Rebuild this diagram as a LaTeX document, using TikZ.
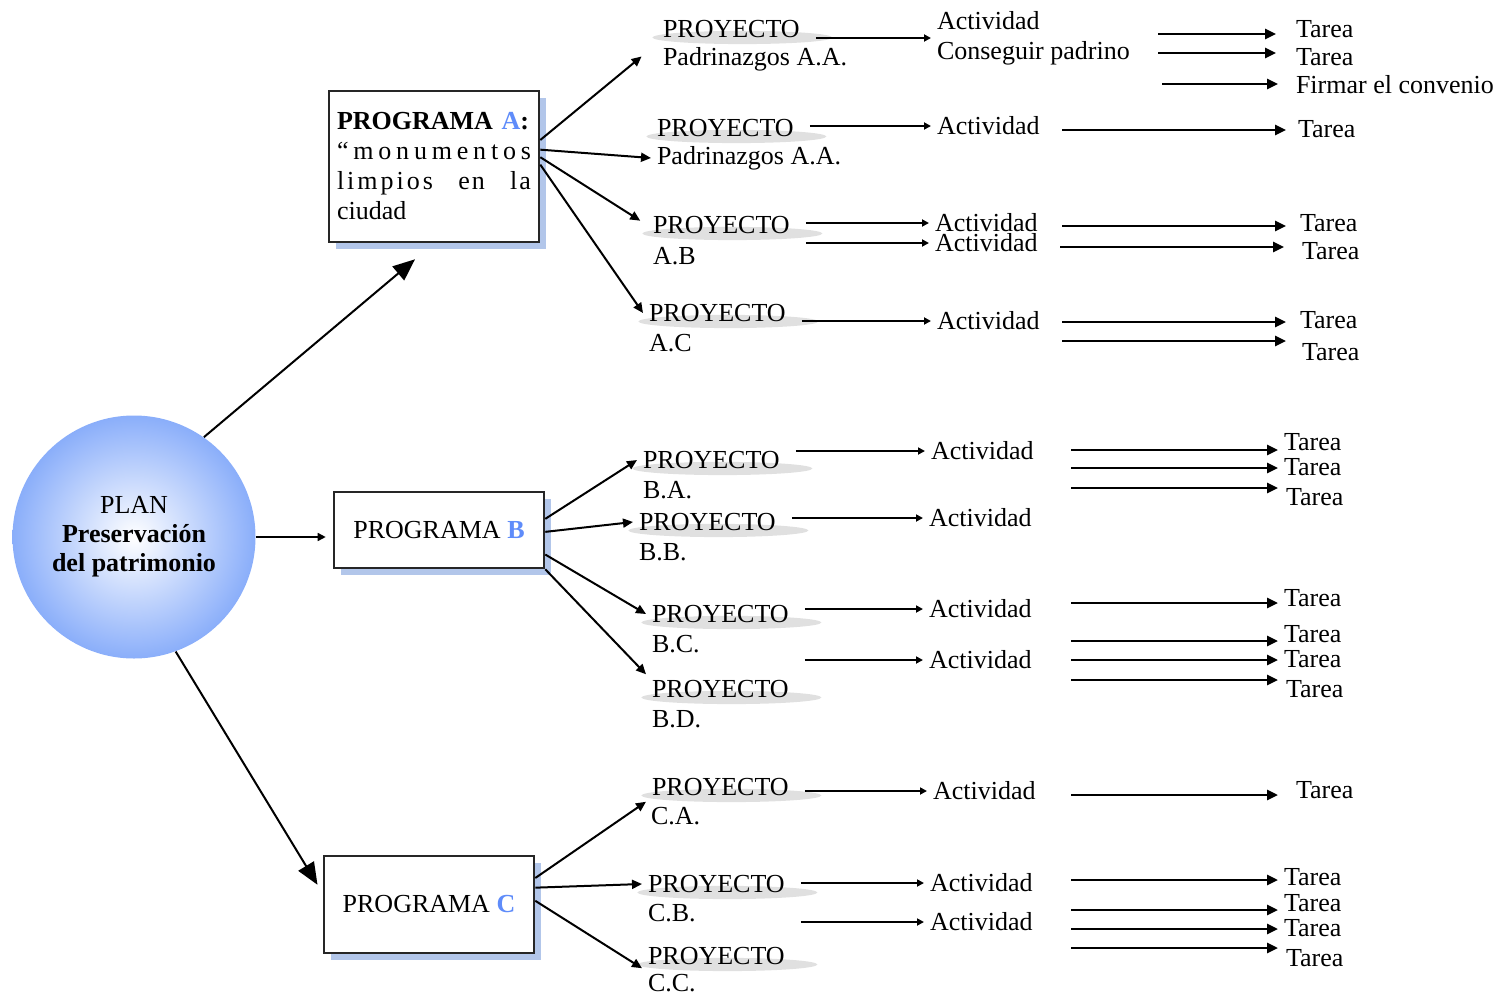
\documentclass[tikz,border=0pt]{standalone}
\usepackage{fontspec}
\setmainfont{Liberation Serif}
\usetikzlibrary{arrows.meta,shadows,backgrounds}

\definecolor{azulletra}{RGB}{95,140,250}
\definecolor{azulplan}{RGB}{138,174,250}
\definecolor{azulsombra}{RGB}{178,198,234}
\definecolor{grisproy}{RGB}{224,224,224}

\tikzstyle{plan} = [circle, minimum size=121.5pt, inner sep=0pt, shading=radial, inner color=white, outer color=azulplan, align=center, font=\fontsize{13}{14.5}\selectfont]
\tikzstyle{programa} = [draw=black!85, line width=1.3pt, fill=white, minimum width=105pt, drop shadow={shadow xshift=3.5pt, shadow yshift=-3.5pt, fill=azulsombra, opacity=1}]
\tikzstyle{txt} = [anchor=west, inner sep=0pt, outer sep=3pt]
\tikzstyle{sombra} = [fill=grisproy]
\tikzstyle{grande} = [line width=1pt, -{Triangle[length=11pt,width=9pt]}]
\tikzstyle{chica} = [line width=0.8pt, -{Triangle[length=4pt,width=4pt]}]
\tikzstyle{flecha} = [line width=1pt, -{Triangle[length=5pt,width=4.5pt]}]
\tikzstyle{act} = [line width=0.9pt, shorten <=5pt, -{Triangle[length=3.5pt,width=3.5pt]}]
\tikzstyle{tar} = [line width=1.3pt, -{Triangle[length=5.5pt,width=5pt]}]

\begin{document}
\begin{tikzpicture}[x=0.5pt, y=-0.5pt, every node/.style={font=\fontsize{13}{15}\selectfont}]
\useasboundingbox (0,0) rectangle (1501,996);

% plan y programas
\node[plan] (plan) at (134,537) {PLAN\\ \textbf{Preservación}\\ \textbf{del patrimonio}};
\node[programa, minimum height=75.5pt, text width=97pt, inner xsep=4pt, align=left] (progA) at (434,166.5) {%
    \textbf{PROGRAMA \textcolor{azulletra}{A}:}\\
    \makebox[97pt][s]{“\hfill m\hfill o\hfill n\hfill u\hfill m\hfill e\hfill n\hfill t\hfill o\hfill s}\\
    \makebox[97pt][s]{l\kern1.5pt i\kern1.5pt m\kern1.5pt p\kern1.5pt i\kern1.5pt o\kern1.5pt s\hfill e\kern1pt n\hfill l\kern1pt a}\\
    ciudad};
\node[programa, minimum height=38pt] (progB) at (439,530) {PROGRAMA \textbf{\textcolor{azulletra}{B}}};
\node[programa, minimum height=48.5pt] (progC) at (429,904.5) {PROGRAMA \textbf{\textcolor{azulletra}{C}}};

\draw[grande, shorten >=12.4pt] (plan.55) -- (progA.south);
\draw[chica, shorten >=3.5pt] (plan.east) -- (plan.east -| progB.west);
\draw[grande, shorten >=5pt] (plan.-70) -- (progC.174);

% proyectos
\node[txt] (pAA) at (657,29) {PROYECTO};
\node[txt] (sAA) at (657,59) {Padrinazgos A.A.};
\node[txt] (pAAb) at (651,128) {PROYECTO};
\node[txt] (sAAb) at (651,158) {Padrinazgos A.A.};
\node[txt] (pAB) at (647,225) {PROYECTO};
\node[txt] (sAB) at (647,256) {A.B};
\node[txt] (pAC) at (643,313) {PROYECTO};
\node[txt] (sAC) at (643,343) {A.C};
\node[txt] (pBA) at (637,460) {PROYECTO};
\node[txt] (sBA) at (637,490) {B.A.};
\node[txt] (pBB) at (633,522) {PROYECTO};
\node[txt] (sBB) at (633,552) {B.B.};
\node[txt] (pBC) at (646,614) {PROYECTO};
\node[txt] (sBC) at (646,644) {B.C.};
\node[txt] (pBD) at (646,689) {PROYECTO};
\node[txt] (sBD) at (646,719) {B.D.};
\node[txt] (pCA) at (646,787) {PROYECTO};
\node[txt] (sCA) at (645,816) {C.A.};
\node[txt] (pCB) at (642,884) {PROYECTO};
\node[txt] (sCB) at (642,913) {C.B.};
\node[txt] (pCC) at (642,956) {PROYECTO};
\node[txt] (sCC) at (642,983) {C.C.};

\begin{scope}[on background layer]
\foreach \p in {pAA,pAAb,pAB,pAC,pBA,pBB,pBC,pBD,pCA,pCB,pCC}
    \fill[sombra] ([xshift=5.5pt]\p.base) ellipse [x radius=45pt, y radius=3.3pt];
\end{scope}

\draw[flecha, shorten >=10pt] (progA.14) -- (pAA.south west);
\draw[flecha] (progA.9) -- (sAAb.west);
\draw[flecha, shorten >=4pt] (progA.5) -- (pAB.west);
\draw[flecha] (progA.1) -- (pAC.west);
\draw[flecha] (progB.6.5) -- (pBA.west);
\draw[flecha] (progB.-1.6) -- (pBB.west);
\draw[flecha] (progB.-13) -- (pBC.west);
\draw[flecha] (progB.south east) -- (pBD.north west);
\draw[flecha] (progC.14) -- (pCA.south west);
\draw[flecha] (progC.9) -- (pCB.west);
\draw[flecha] (progC.2.4) -- (sCC.north west);

% actividades
\node[txt, align=left] (aAA) at (931,38) {Actividad\\Conseguir padrino};
\node[txt] (aAAb) at (931,126) {Actividad};
\node[txt] (aAB) at (929,223) {Actividad};
\node[txt] (aABb) at (929,243) {Actividad};
\node[txt] (aAC) at (931,321) {Actividad};
\node[txt] (aBA) at (925,451) {Actividad};
\node[txt] (aBB) at (923,518) {Actividad};
\node[txt] (aBC) at (923,609) {Actividad};
\node[txt] (aBD) at (923,660) {Actividad};
\node[txt] (aCA) at (927,791) {Actividad};
\node[txt] (aCB) at (924,883) {Actividad};
\node[txt] (aCBb) at (924,922) {Actividad};

\draw[act] (aAA.west -| pAA.east) -- (aAA.west);
\draw[act] (aAAb.west -| pAAb.east) -- (aAAb.west);
\draw[act] (aAB.west -| pAB.east) -- (aAB.west);
\draw[act] (aABb.west -| pAB.east) -- (aABb.west);
\draw[act] (aAC.west -| pAC.east) -- (aAC.west);
\draw[act] (aBA.west -| pBA.east) -- (aBA.west);
\draw[act] (aBB.west -| pBB.east) -- (aBB.west);
\draw[act] (aBC.west -| pBC.east) -- (aBC.west);
\draw[act] (aBD.west -| pBD.east) -- (aBD.west);
\draw[act] (aCA.west -| pCA.east) -- (aCA.west);
\draw[act] (aCB.west -| pCB.east) -- (aCB.west);
\draw[act] (aCBb.west -| pCB.east) -- (aCBb.west);

% tareas
\coordinate (c1) at (1158,34);
\coordinate (c2) at (1158,53);
\coordinate (c3) at (1162,84);
\coordinate (c4) at (1062,130);
\coordinate (c5) at (1062,226);
\coordinate (c6) at (1060,247);
\coordinate (c7) at (1062,322);
\coordinate (c8) at (1062,341);
\coordinate (c9) at (1071,450);
\coordinate (c10) at (1071,468);
\coordinate (c11) at (1071,488);
\coordinate (c12) at (1071,603);
\coordinate (c13) at (1071,641);
\coordinate (c14) at (1071,660);
\coordinate (c15) at (1071,680);
\coordinate (c16) at (1071,795);
\coordinate (c17) at (1071,880);
\coordinate (c18) at (1071,910);
\coordinate (c19) at (1071,929);
\coordinate (c20) at (1071,948);

\node[txt] (t1) at (1290,29) {Tarea};
\node[txt] (t2) at (1290,57) {Tarea};
\node[txt] (t3) at (1290,85) {Firmar el convenio};
\node[txt] (t4) at (1292,129) {Tarea};
\node[txt] (t5) at (1294,223) {Tarea};
\node[txt] (t6) at (1296,251) {Tarea};
\node[txt] (t7) at (1294,320) {Tarea};
\node[txt] (t8) at (1296,352) {Tarea};
\node[txt] (t9) at (1278,442) {Tarea};
\node[txt] (t10) at (1278,467) {Tarea};
\node[txt] (t11) at (1280,497) {Tarea};
\node[txt] (t12) at (1278,598) {Tarea};
\node[txt] (t13) at (1278,634) {Tarea};
\node[txt] (t14) at (1278,659) {Tarea};
\node[txt] (t15) at (1280,689) {Tarea};
\node[txt] (t16) at (1290,790) {Tarea};
\node[txt] (t17) at (1278,877) {Tarea};
\node[txt] (t18) at (1278,903) {Tarea};
\node[txt] (t19) at (1278,928) {Tarea};
\node[txt] (t20) at (1280,958) {Tarea};

\draw[tar, shorten >=7pt] (c1) -- (c1 -| t1.west);
\draw[tar, shorten >=7pt] (c2) -- (c2 -| t2.west);
\draw[tar, shorten >=6pt] (c3) -- (c3 -| t3.west);
\draw[tar, shorten >=3pt] (c4) -- (c4 -| t4.west);
\draw[tar, shorten >=4pt] (c5) -- (c5 -| t5.west);
\draw[tar, shorten >=6pt] (c6) -- (c6 -| t6.west);
\draw[tar, shorten >=4pt] (c7) -- (c7 -| t7.west);
\draw[tar, shorten >=5pt] (c8) -- (c8 -| t8.west);
\draw[tar] (c9) -- (c9 -| t9.west);
\draw[tar] (c10) -- (c10 -| t10.west);
\draw[tar, shorten >=1pt] (c11) -- (c11 -| t11.west);
\draw[tar] (c12) -- (c12 -| t12.west);
\draw[tar] (c13) -- (c13 -| t13.west);
\draw[tar] (c14) -- (c14 -| t14.west);
\draw[tar, shorten >=1pt] (c15) -- (c15 -| t15.west);
\draw[tar, shorten >=6pt] (c16) -- (c16 -| t16.west);
\draw[tar] (c17) -- (c17 -| t17.west);
\draw[tar] (c18) -- (c18 -| t18.west);
\draw[tar] (c19) -- (c19 -| t19.west);
\draw[tar, shorten >=1pt] (c20) -- (c20 -| t20.west);
\end{tikzpicture}
\end{document}
